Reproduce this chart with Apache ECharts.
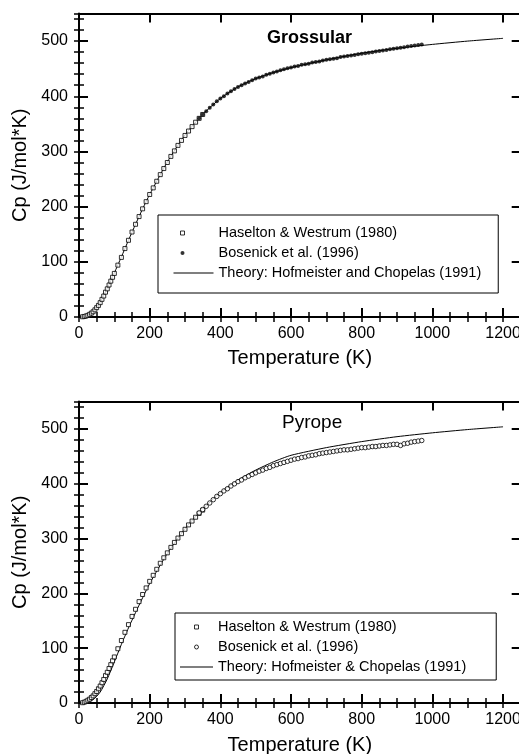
<!DOCTYPE html>
<html>
<head>
<meta charset="utf-8">
<script src="https://cdn.jsdelivr.net/npm/echarts@6/dist/echarts.min.js"></script>
<style>
  html, body { margin: 0; padding: 0; background: #fff; }
  #chart { width: 519px; height: 754px; }
</style>
</head>
<body>
<div id="chart"></div>
<script>
// Grossular (top panel)
const grossHwT = [10, 15, 20, 25, 30, 35, 40, 45, 50, 55, 60, 65, 70, 75, 80, 85, 90, 95, 100,
  110, 120, 130, 140, 150, 160, 170, 180, 190, 200, 210, 220, 230, 240, 250, 260, 270, 280,
  290, 300, 310, 320, 330, 340, 350]
const grossHwCp = [0.4, 1, 1.8, 3, 4.8, 7, 9.5, 13, 17, 21, 26, 32, 38, 45, 51, 58, 65, 72, 79,
  94, 108, 124, 139, 154, 168, 182, 196, 209, 222, 234, 246, 258, 269, 280, 291, 301, 311,
  320, 329, 337, 345, 353, 360, 367]

const bosT = [340, 350, 360, 370, 380, 390, 400, 410, 420, 430, 440, 450, 460, 470, 480, 490,
  500, 510, 520, 530, 540, 550, 560, 570, 580, 590, 600, 610, 620, 630, 640, 650, 660, 670,
  680, 690, 700, 710, 720, 730, 740, 750, 760, 770, 780, 790, 800, 810, 820, 830, 840, 850,
  860, 870, 880, 890, 900, 910, 920, 930, 940, 950, 960, 970]
const grossBosCp = [360, 367, 373, 379, 385, 391, 396, 400, 405, 409, 413, 417, 420, 423, 426, 429,
  432, 434, 436, 439, 441, 443, 445, 447, 449, 451, 452, 454, 455, 457, 458, 459, 461, 462,
  463, 465, 466, 467, 468, 469, 471, 472, 473, 474, 475, 476, 477, 478, 479, 480, 481, 482,
  483, 484, 485, 486, 487, 488, 489, 490, 491, 492, 493, 494]

const theoryT = [0, 20, 40, 60, 80, 100, 120, 140, 160, 180, 200, 250, 300, 350, 400, 450, 500,
  550, 600, 700, 800, 900, 1000, 1100, 1200]
const grossTheoryCp = [0, 1.5, 9, 27, 52, 80, 109, 139, 168, 196, 222, 281, 330, 367, 396, 417, 432,
  443, 452, 466, 478, 487, 494, 500, 505]

// Pyrope (bottom panel)
const pyHwCp = [0.5, 1.5, 3, 5, 7, 10, 13, 17, 21, 26, 31, 37, 43, 50, 56, 63, 70, 77, 84,
  99, 114, 129, 143, 158, 171, 185, 198, 210, 222, 233, 244, 255, 265, 274, 284, 293, 301,
  309, 317, 325, 332, 339, 346, 352]
const pyBosCp = [347, 353, 359, 365, 371, 377, 382, 387, 391, 396, 400, 404, 407, 411, 414, 417,
  420, 423, 425, 428, 430, 433, 435, 437, 439, 441, 443, 445, 446, 448, 449, 451, 452, 453,
  455, 456, 457, 458, 459, 460, 461, 462, 462, 463, 464, 465, 466, 466, 467, 468, 468, 469,
  470, 470, 471, 472, 472, 470, 473, 474, 476, 477, 478, 479]
const pyTheoryCp = [0, 1, 6, 20, 44, 75, 107, 137, 165, 192, 218, 273, 318, 354, 384, 407, 425,
  440, 452, 466, 477, 486, 493, 499, 504]

const legendText = {
  gHw: 'Haselton & Westrum (1980)',
  gBos: 'Bosenick et al. (1996)',
  gTh: 'Theory: Hofmeister and Chopelas (1991)',
  pHw: 'Haselton & Westrum (1980)',
  pBos: 'Bosenick et al. (1996)',
  pTh: 'Theory: Hofmeister & Chopelas (1991)'
}

const zip = (xs, ys) => xs.map((x, i) => [x, ys[i]])

const FONT = 'Liberation Sans'
const X_MAX = 1250
const Y_MAX = 550
const black = '#000'

function xAxes (g, nameGap) {
  const base = {
    gridIndex: g, type: 'value', min: 0, max: X_MAX,
    splitLine: { show: false },
    axisLabel: { show: false },
    axisLine: { show: false }
  }
  const frame = { show: true, onZero: false, lineStyle: { color: black, width: 2 } }
  const major = { inside: true, length: 9, lineStyle: { color: black, width: 2 } }
  const minor = { inside: true, length: 5, lineStyle: { color: black, width: 1.5 } }
  return [
    {
      ...base, position: 'bottom', interval: 200, axisLine: frame, axisTick: major,
      axisLabel: {
        show: true, fontSize: 16, color: black, fontFamily: FONT, margin: 9,
        showMaxLabel: false, formatter: (v) => String(v)
      },
      name: 'Temperature (K)', nameLocation: 'middle', nameGap,
      nameTextStyle: { fontSize: 20, color: black, fontFamily: FONT }
    },
    { ...base, position: 'bottom', interval: 50, axisTick: minor },
    { ...base, position: 'top', interval: 200, axisLine: frame, axisTick: major },
    { ...base, position: 'top', interval: 50, axisTick: minor }
  ]
}

function yAxes (g, nameGap) {
  const base = {
    gridIndex: g, type: 'value', min: 0, max: Y_MAX,
    splitLine: { show: false },
    axisLabel: { show: false },
    axisLine: { show: false }
  }
  const frame = { show: true, onZero: false, lineStyle: { color: black, width: 2 } }
  const major = { inside: true, length: 9, lineStyle: { color: black, width: 2 } }
  const minor = { inside: true, length: 5, lineStyle: { color: black, width: 1.5 } }
  return [
    {
      ...base, position: 'left', interval: 100, axisLine: frame, axisTick: major,
      axisLabel: {
        show: true, fontSize: 16, color: black, fontFamily: FONT, margin: 11,
        showMaxLabel: false, formatter: (v) => String(v)
      },
      name: 'Cp (J/mol*K)', nameLocation: 'middle', nameGap,
      nameTextStyle: { fontSize: 20, color: black, fontFamily: FONT }
    },
    { ...base, position: 'left', interval: 20, axisTick: minor },
    { ...base, position: 'right', interval: 100, axisLine: frame, axisTick: major },
    { ...base, position: 'right', interval: 20, axisTick: minor }
  ]
}

const openMark = { color: '#fff', borderColor: black, borderWidth: 1 }
// legend icons: box spans the full icon width so the mark sits near the left end
const leftSquare = 'path://M7,0L11,0L11,4L7,4Z M0,0 M40,4'
const leftDot = 'path://M7,2A2,2 0 1 0 11,2A2,2 0 1 0 7,2Z M0,0 M40,4'
const square = 'path://M0,0L4,0L4,4L0,4Z'
const thinLine = 'path://M0,1.5L40,1.5L40,2.5L0,2.5Z M0,0 M40,4'

const legendBase = {
  orient: 'vertical',
  formatter: (n) => legendText[n],
  itemHeight: 4, itemGap: 4,
  borderColor: black, borderWidth: 1,
  selectedMode: false,
  textStyle: { fontSize: 14.5, color: black, fontFamily: FONT, lineHeight: 16 }
}

const option = {
  backgroundColor: '#fff',
  animation: false,
  textStyle: { fontFamily: FONT },
  title: [
    { text: 'Grossular', left: 267, top: 29, padding: 0,
      textStyle: { fontSize: 18, fontWeight: 'bold', color: black, fontFamily: FONT } },
    { text: 'Pyrope', left: 282, top: 413, padding: 0,
      textStyle: { fontSize: 19, fontWeight: 'normal', color: black, fontFamily: FONT } }
  ],
  grid: [
    { left: 79, top: 13.5, width: 441.7, height: 303.5, containLabel: false, outerBoundsMode: 'none' },
    { left: 79, top: 401.6, width: 441.7, height: 301.4, containLabel: false, outerBoundsMode: 'none' }
  ],
  xAxis: [...xAxes(0, 31), ...xAxes(1, 32)],
  yAxis: [...yAxes(0, 44), ...yAxes(1, 41)],
  legend: [
    {
      ...legendBase,
      data: [
        { name: 'gHw', icon: leftSquare, itemStyle: { borderWidth: 1 } },
        { name: 'gBos', icon: leftDot },
        { name: 'gTh', icon: thinLine, itemStyle: { color: black, borderWidth: 0 } }
      ],
      left: 158, top: 215,
      padding: [10, 17, 12, 15],
      itemWidth: 40
    },
    {
      ...legendBase,
      data: [
        { name: 'pHw', icon: square, itemStyle: { borderWidth: 1 } },
        { name: 'pBos', itemStyle: { borderWidth: 1 } },
        { name: 'pTh', icon: thinLine, itemStyle: { color: black, borderWidth: 0 } }
      ],
      left: 175, top: 613,
      padding: [6, 30, 5, 5],
      itemWidth: 33
    }
  ],
  series: [
    {
      name: 'gTh', type: 'line', xAxisIndex: 0, yAxisIndex: 0,
      data: zip(theoryT, grossTheoryCp), smooth: 0.2, symbol: 'none',
      lineStyle: { color: black, width: 1 }, itemStyle: { color: black }, z: 2
    },
    {
      name: 'gHw', type: 'scatter', xAxisIndex: 0, yAxisIndex: 0,
      data: zip(grossHwT, grossHwCp), symbol: 'rect', symbolSize: 4,
      itemStyle: openMark, z: 3
    },
    {
      name: 'gBos', type: 'scatter', xAxisIndex: 0, yAxisIndex: 0,
      data: zip(bosT, grossBosCp), symbol: 'circle', symbolSize: 4,
      itemStyle: { color: black }, z: 3
    },
    {
      name: 'pTh', type: 'line', xAxisIndex: 4, yAxisIndex: 4,
      data: zip(theoryT, pyTheoryCp), smooth: 0.2, symbol: 'none',
      lineStyle: { color: black, width: 1 }, itemStyle: { color: black }, z: 2
    },
    {
      name: 'pHw', type: 'scatter', xAxisIndex: 4, yAxisIndex: 4,
      data: zip(grossHwT, pyHwCp), symbol: 'rect', symbolSize: 4,
      itemStyle: openMark, z: 3
    },
    {
      name: 'pBos', type: 'scatter', xAxisIndex: 4, yAxisIndex: 4,
      data: zip(bosT, pyBosCp), symbol: 'circle', symbolSize: 4.5,
      itemStyle: openMark, z: 3
    }
  ]
}

const chart = echarts.init(document.getElementById('chart'))
chart.setOption(option)
window.addEventListener('resize', () => chart.resize())
</script>
</body>
</html>
